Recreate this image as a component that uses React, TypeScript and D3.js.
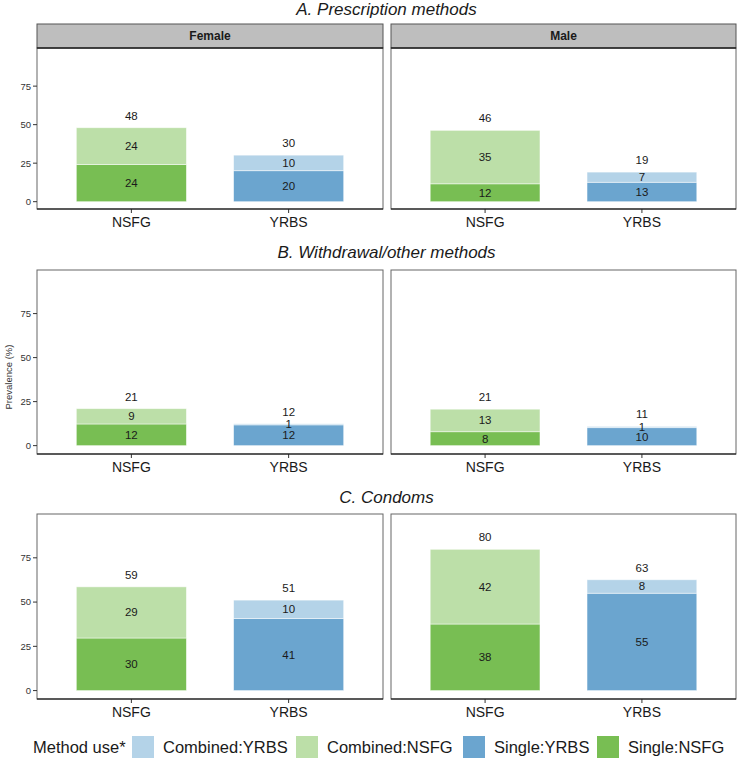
import * as d3 from "d3";
import React from "react";

// panel titles (rows) and facet columns
const methods = ["A. Prescription methods", "B. Withdrawal/other methods", "C. Condoms"];
const sexes = ["Female", "Male"];
const surveys = ["NSFG", "YRBS"];

// prevalence (%) per row, ordered Female-NSFG, Female-YRBS, Male-NSFG, Male-YRBS
const singleUse = [
  [24.1, 20.1, 11.6, 12.6],
  [12.3, 11.8, 7.9, 10.2],
  [29.7, 40.7, 37.6, 55.0],
];
const combinedUse = [
  [23.9, 10.1, 34.7, 6.6],
  [8.7, 0.6, 12.8, 0.7],
  [28.9, 10.4, 42.2, 7.6],
];

const yTicks = [0, 25, 50, 75];
const legendLabels = ["Combined:YRBS", "Combined:NSFG", "Single:YRBS", "Single:NSFG"];

const colors: Record<string, string> = {
  "Single:NSFG": "#78be53",
  "Combined:NSFG": "#bcdfa8",
  "Single:YRBS": "#6ba5cf",
  "Combined:YRBS": "#b4d3e8",
};

const W = 737;
const H = 758;
const FONT = "Arial, 'Liberation Sans', Helvetica, sans-serif";

// layout of the three rows: title baseline, plot top/bottom, optional strip
const rows = [
  { titleY: 15, stripTop: 24, top: 48, bottom: 209 },
  { titleY: 258, stripTop: null, top: 270, bottom: 454 },
  { titleY: 503, stripTop: null, top: 514, bottom: 699 },
];
const cols = [
  { left: 37, right: 383 },
  { left: 391, right: 736 },
];

function App() {
  const fmt = (v: number) => String(Math.round(v));

  return (
    <svg
      width={W}
      height={H}
      viewBox={`0 0 ${W} ${H}`}
      style={{ position: "absolute", left: 0, top: 0, fontFamily: FONT }}
    >
      <rect width={W} height={H} fill="white" />
      {methods.map((title, r) => {
        const row = rows[r];
        const y = d3.scaleLinear().domain([-4.75, 99.75]).range([row.bottom, row.top]);
        return (
          <g key={title}>
            <text
              x={(cols[0].left + cols[1].right) / 2}
              y={row.titleY}
              textAnchor="middle"
              fontSize={17}
              fontStyle="italic"
              fill="#1a1a1a"
            >
              {title}
            </text>
            {sexes.map((sex, c) => {
              const col = cols[c];
              // ggplot discrete scale: expand 0.6 on each side, bar width 0.7
              const xc = d3
                .scalePoint()
                .domain(surveys)
                .range([col.left, col.right])
                .padding(0.6);
              const bw = xc.step() * 0.7;
              return (
                <g key={sex}>
                  {row.stripTop !== null && (
                    <g>
                      <rect
                        x={col.left}
                        y={row.stripTop}
                        width={col.right - col.left}
                        height={row.top - row.stripTop}
                        fill="#bebebe"
                        stroke="#555"
                        strokeWidth={1}
                      />
                      <text
                        x={(col.left + col.right) / 2}
                        y={(row.stripTop + row.top) / 2 + 4.2}
                        textAnchor="middle"
                        fontSize={12}
                        fontWeight="bold"
                        fill="#1a1a1a"
                      >
                        {sex}
                      </text>
                    </g>
                  )}
                  {surveys.map((sv, s) => {
                    const idx = c * 2 + s;
                    const single = singleUse[r][idx];
                    const comb = combinedUse[r][idx];
                    const total = single + comb;
                    const cx = xc(sv) as number;
                    return (
                      <g key={sv}>
                        <rect
                          x={cx - bw / 2}
                          y={y(single)}
                          width={bw}
                          height={y(0) - y(single)}
                          fill={colors[`Single:${sv}`]}
                          stroke="#ffffff"
                          strokeOpacity={0.6}
                          strokeWidth={0.8}
                        />
                        <rect
                          x={cx - bw / 2}
                          y={y(total)}
                          width={bw}
                          height={y(single) - y(total)}
                          fill={colors[`Combined:${sv}`]}
                          stroke="#ffffff"
                          strokeOpacity={0.6}
                          strokeWidth={0.8}
                        />
                        <text x={cx} y={y(single / 2) + 4} textAnchor="middle" fontSize={11.5} fill="#1a1a1a">
                          {fmt(single)}
                        </text>
                        <text
                          x={cx}
                          y={y(single + comb / 2) + 4}
                          textAnchor="middle"
                          fontSize={11.5}
                          fill="#1a1a1a"
                        >
                          {fmt(comb)}
                        </text>
                        <text x={cx} y={y(total) - 8} textAnchor="middle" fontSize={11.5} fill="#1a1a1a">
                          {fmt(total)}
                        </text>
                        <line x1={cx} x2={cx} y1={row.bottom} y2={row.bottom + 4} stroke="#333" />
                        <text x={cx} y={row.bottom + 18} textAnchor="middle" fontSize={14} fill="#1a1a1a">
                          {sv}
                        </text>
                      </g>
                    );
                  })}
                  <rect
                    x={col.left}
                    y={row.top}
                    width={col.right - col.left}
                    height={row.bottom - row.top}
                    fill="none"
                    stroke="#666"
                    strokeWidth={1}
                  />
                  <line x1={col.left} x2={col.right} y1={row.bottom} y2={row.bottom} stroke="#000" strokeWidth={1.2} />
                  {row.stripTop !== null && (
                    <line x1={col.left} x2={col.right} y1={row.top} y2={row.top} stroke="#000" strokeWidth={1.2} />
                  )}
                  {c === 0 &&
                    yTicks.map((t) => (
                      <g key={t}>
                        <line x1={col.left - 4} x2={col.left} y1={y(t)} y2={y(t)} stroke="#333" />
                        <text x={col.left - 6} y={y(t) + 3.4} textAnchor="end" fontSize={9.5} fill="#333">
                          {t}
                        </text>
                      </g>
                    ))}
                </g>
              );
            })}
          </g>
        );
      })}
      <text transform="translate(12,377) rotate(-90)" textAnchor="middle" fontSize={9.5} fill="#333">
        Prevalence (%)
      </text>
      <g>
        <text x={33} y={753} fontSize={16.5} fill="#1a1a1a">
          Method use*
        </text>
        {legendLabels.map((lab, i) => {
          const kx = [132, 296, 463, 597][i];
          return (
            <g key={lab}>
              <rect x={kx} y={736} width={22} height={22} fill={colors[lab]} />
              <text x={kx + 31} y={753} fontSize={16.5} fill="#1a1a1a">
                {lab}
              </text>
            </g>
          );
        })}
      </g>
    </svg>
  );
}

export default App;
